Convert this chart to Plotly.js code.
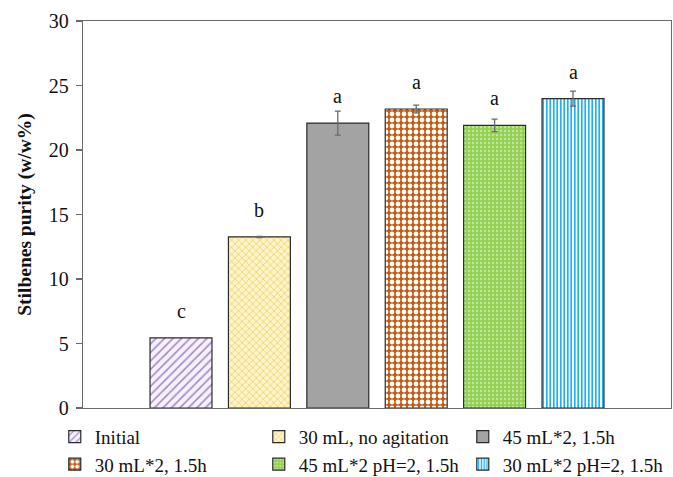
<!DOCTYPE html>
<html>
<head>
<meta charset="utf-8">
<script src="https://cdn.plot.ly/plotly-3.0.1.min.js"></script>
<style>html,body{margin:0;padding:0;background:#fff;}#chart{width:673px;height:477px;}</style>
</head>
<body>
<div id="chart"></div>
<script>
const seriesNames = ["Initial", "30 mL, no agitation", "45 mL*2, 1.5h", "30 mL*2, 1.5h", "45 mL*2 pH=2, 1.5h", "30 mL*2 pH=2, 1.5h"];
const purity = [5.43, 13.26, 22.09, 23.18, 21.91, 23.98];
const purityErr = [0, 0.05, 0.93, 0.3, 0.48, 0.58];
const groupLetters = ["c", "b", "a", "a", "a", "a"];
const yTicks = [0, 5, 10, 15, 20, 25, 30];

const styles = [
  {color: "#f6eefb", pattern: {shape: "/", fgcolor: "#9a86c2", bgcolor: "#f8f0fc", size: 6, solidity: 0.25}},
  {color: "#fbe9a6", pattern: {shape: "x", fgcolor: "#f0d070", bgcolor: "#fff3c8", size: 5, solidity: 0.3}},
  {color: "#a3a3a3", pattern: {shape: ""}},
  {color: "#c9641c", pattern: {shape: ".", fgcolor: "#ffffff", bgcolor: "#c55a11", size: 6, solidity: 0.5}},
  {color: "#92d050", pattern: {shape: ".", fgcolor: "#c2e59e", bgcolor: "#92d050", size: 4, solidity: 0.3}},
  {color: "#2fb6ee", pattern: {shape: "|", fgcolor: "#1fb0ee", bgcolor: "#ffffff", size: 3.5, solidity: 0.5}}
];

const font = "'Liberation Serif', 'Times New Roman', serif";

const traces = seriesNames.map((name, i) => ({
  type: "bar",
  name: name,
  x: [i],
  y: [purity[i]],
  width: 0.79,
  error_y: {type: "data", array: [purityErr[i]], visible: purityErr[i] > 0, color: "#6a6a6a", thickness: 1.3, width: 3},
  marker: {
    color: styles[i].color,
    pattern: styles[i].pattern,
    line: {color: "#2a2a2a", width: 1.2}
  },
  hoverinfo: "y"
}));

const annotations = groupLetters.map((t, i) => ({
  x: i,
  y: purity[i],
  xref: "x", yref: "y",
  text: t,
  showarrow: false,
  yanchor: "bottom",
  yshift: 14,
  font: {family: font, size: 20, color: "#111"}
}));

const layout = {
  width: 673, height: 477,
  margin: {l: 83, r: 2, t: 21, b: 69, autoexpand: false},
  paper_bgcolor: "#fff", plot_bgcolor: "#fff",
  showlegend: true,
  barmode: "overlay",
  font: {family: font, size: 20, color: "#111"},
  xaxis: {
    range: [-1.25, 6.25],
    showticklabels: false, ticks: "", showgrid: false, zeroline: false,
    showline: true, linecolor: "#6a6a6a", linewidth: 1.3, mirror: true, fixedrange: true
  },
  yaxis: {
    range: [0, 30], tickvals: yTicks, ticktext: yTicks.map(String),
    ticks: "outside", ticklen: 6, tickcolor: "#6a6a6a", tickwidth: 1.3,
    ticklabelstandoff: 3,
    showgrid: false, zeroline: false,
    showline: true, linecolor: "#6a6a6a", linewidth: 1.3, mirror: true,
    tickfont: {family: font, size: 20, color: "#111"},
    title: {text: "<b>Stilbenes purity (w/w%)</b>", font: {family: font, size: 19.5, color: "#111"}, standoff: 12},
    fixedrange: true
  },
  legend: {
    orientation: "h", x: -0.048, xanchor: "left", y: -0.025, yanchor: "top",
    entrywidth: 159, entrywidthmode: "pixels",
    font: {family: font, size: 19, color: "#111"},
    itemwidth: 30, traceorder: "normal"
  },
  annotations: annotations
};

Plotly.newPlot("chart", traces, layout, {displayModeBar: false, staticPlot: true});
</script>
</body>
</html>
